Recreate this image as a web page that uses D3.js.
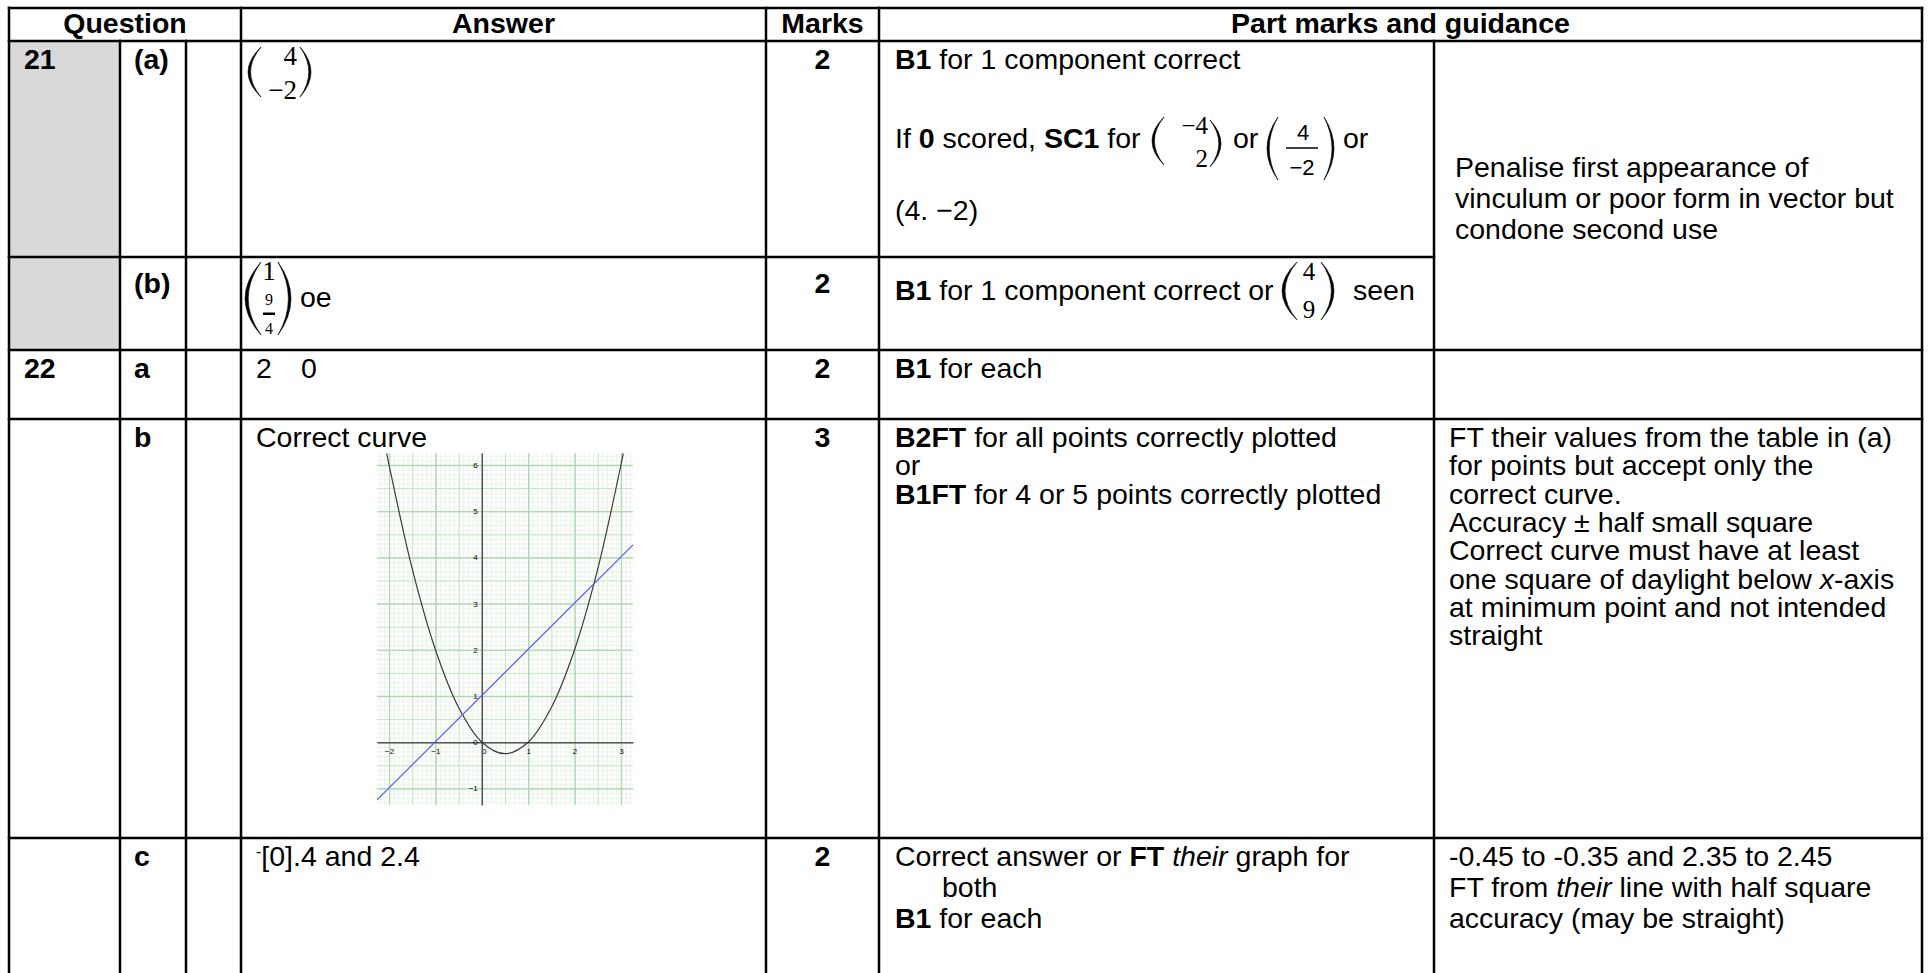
<!DOCTYPE html>
<html>
<head>
<meta charset="utf-8">
<script src="https://cdn.jsdelivr.net/npm/d3@7"></script>
<style>
  body { margin: 0; background: #fff; }
  svg text { font-family: "Liberation Sans", Arial, sans-serif; font-size: 28.5px; fill: #000; white-space: pre; }
</style>
</head>
<body>
<svg id="canvas" width="1929" height="973"></svg>
<script>
// ---- table content ----
let headers = ['Question', 'Answer', 'Marks', 'Part marks and guidance']
let questionNums = ['21', '', '22', '', '']
let partLabels = ['(a)', '(b)', 'a', 'b', 'c']
let marks = ['2', '2', '2', '3', '2']

let answer22a = ['2', '0']
let answer22b = 'Correct curve'
let answer22c = ['-', '[0].4 and 2.4']

// vectors (top, bottom)
let vecAnswerA = ['4', '\u22122']
let vecAnswerB = ['1', '9', '4']       // 1 over 9/4
let vecSC1 = ['\u22124', '2']
let vecSC1Bar = ['4', '\u22122']
let vecSeen = ['4', '9']

// part marks, one array per row, each line a list of [text, style]
let pmRow21a = [
    [['B1', 'b'], [' for 1 component correct']],
    [['If '], ['0', 'b'], [' scored, '], ['SC1', 'b'], [' for']],
    [['(4. \u22122)']]
]
let pmRow21b = [[['B1', 'b'], [' for 1 component correct or']]]
let pmRow22a = [[['B1', 'b'], [' for each']]]
let pmRow22b = [
    [['B2FT', 'b'], [' for all points correctly plotted']],
    [['or']],
    [['B1FT', 'b'], [' for 4 or 5 points correctly plotted']]
]
let pmRow22c = [
    [['Correct answer or '], ['FT', 'b'], [' '], ['their', 'i'], [' graph for']],
    [['both']],
    [['B1', 'b'], [' for each']]
]

let guide21 = ['Penalise first appearance of', 'vinculum or poor form in vector but', 'condone second use']
let guide22b = [
    [['FT their values from the table in (a)']],
    [['for points but accept only the']],
    [['correct curve.']],
    [['Accuracy \u00b1 half small square']],
    [['Correct curve must have at least']],
    [['one square of daylight below '], ['x', 'i'], ['-axis']],
    [['at minimum point and not intended']],
    [['straight']]
]
let guide22c = [
    [['-0.45 to -0.35 and 2.35 to 2.45']],
    [['FT from '], ['their', 'i'], [' line with half square']],
    [['accuracy (may be straight)']]
]

// ---- graph data ----
let curveX = [-2.05, -2, -1.5, -1, -0.5, 0, 0.5, 1, 1.5, 2, 2.5, 3, 3.05]
let curveY = [6.25, 6, 3.75, 2, 0.75, 0, -0.25, 0, 0.75, 2, 3.75, 6, 6.25]
let lineX = [-2.26, 3.26]
let lineY = [-1.25, 4.27]
let xTicks = [-2, -1, 0, 1, 2, 3]
let yTicks = [-1, 0, 1, 2, 3, 4, 5, 6]

// ---- layout ----
let colX = [9, 120, 186, 241, 766, 879, 1434, 1922]
let rowY = [8, 41, 257, 350, 419, 838, 1000]
let gap = 28.3      // tight paragraphs
let gapWide = 31    // looser paragraphs

let canvas = d3.select('#canvas')

// grey cell behind question 21
canvas.append('rect')
    .attr('x', colX[0]).attr('y', rowY[1])
    .attr('width', colX[1] - colX[0]).attr('height', rowY[3] - rowY[1])
    .attr('fill', '#d9d9d9')

let richLine = (x, y, segs) => {
    let t = canvas.append('text').attr('x', x).attr('y', y)
    segs.forEach(s => {
        let sp = t.append('tspan').text(s[0])
        if (s[1] === 'b') sp.attr('font-weight', 'bold')
        if (s[1] === 'i') sp.attr('font-style', 'italic')
    })
    return t
}

let plain = (x, y, txt, opts = {}) => {
    let t = canvas.append('text').attr('x', x).attr('y', y).text(txt)
    if (opts.bold) t.attr('font-weight', 'bold')
    if (opts.anchor) t.attr('text-anchor', opts.anchor)
    if (opts.size) t.style('font-size', opts.size + 'px')
    if (opts.serif) t.style('font-family', '"Liberation Serif", "DejaVu Serif", serif')
    return t
}

// bracket as a thin crescent, tips at x, bulge is signed
let paren = (x, y1, y2, bulge) => {
    let ym = (y1 + y2) / 2
    let inner = bulge * 0.8
    canvas.append('path')
        .attr('d', `M${x},${y1} Q${x + bulge},${ym} ${x},${y2} Q${x + inner},${ym} ${x},${y1} Z`)
        .attr('fill', '#000').attr('stroke', '#000').attr('stroke-width', 0.6)
}

// ---- header ----
let headCenters = [(colX[0] + colX[3]) / 2, (colX[3] + colX[4]) / 2, (colX[4] + colX[5]) / 2, (colX[5] + colX[7]) / 2]
headers.forEach((h, i) => plain(headCenters[i], 33, h, { bold: true, anchor: 'middle' }))

// ---- question / part / marks columns ----
let firstBase = [69, 293, 378, 447, 866]
questionNums.forEach((q, i) => { if (q) plain(24, firstBase[i], q, { bold: true }) })
partLabels.forEach((p, i) => plain(134, firstBase[i], p, { bold: true }))
marks.forEach((m, i) => plain((colX[4] + colX[5]) / 2, firstBase[i], m, { bold: true, anchor: 'middle' }))

// ---- answers ----
let ax = -9
paren(270 + ax, 47, 97, -26)
paren(309 + ax, 47, 97, 22)
plain(306 + ax, 65, vecAnswerA[0], { serif: true, size: 27, anchor: 'end' })
plain(306 + ax, 99, vecAnswerA[1], { serif: true, size: 27, anchor: 'end' })

let bx = -12
paren(273 + bx, 262, 335, -32)
paren(290 + bx, 262, 335, 26)
plain(281 + bx, 280, vecAnswerB[0], { serif: true, size: 27, anchor: 'middle' })
plain(281 + bx, 305, vecAnswerB[1], { serif: true, size: 16, anchor: 'middle' })
canvas.append('rect').attr('x', 275 + bx).attr('y', 312.5).attr('width', 12).attr('height', 2.5).attr('fill', '#000')
plain(281 + bx, 334, vecAnswerB[2], { serif: true, size: 16, anchor: 'middle' })
plain(300, 307, 'oe')

plain(256, 378, answer22a[0])
plain(301, 378, answer22a[1])
plain(256, 447, answer22b)
let ans = canvas.append('text').attr('x', 256).attr('y', 866)
ans.append('tspan').text(answer22c[0]).style('font-size', '16px').attr('dy', -9)
ans.append('tspan').text(answer22c[1]).attr('dy', 9)

// ---- part marks ----
let pmX = colX[5] + 16
richLine(pmX, 69, pmRow21a[0])
richLine(pmX, 148, pmRow21a[1])
richLine(pmX, 220, pmRow21a[2])

paren(1164, 117, 165, -24)
paren(1210, 120, 167, 22)
plain(1208, 134, vecSC1[0], { serif: true, size: 25, anchor: 'end' })
plain(1208, 167, vecSC1[1], { serif: true, size: 25, anchor: 'end' })
plain(1233, 148, 'or')
paren(1278, 117, 180, -22)
paren(1324, 117, 180, 20)
plain(1303, 140, vecSC1Bar[0], { size: 22, anchor: 'middle' })
canvas.append('line').attr('x1', 1286).attr('x2', 1318).attr('y1', 148).attr('y2', 148)
    .attr('stroke', '#000').attr('stroke-width', 1.5)
plain(1302, 175, vecSC1Bar[1], { size: 22, anchor: 'middle' })
plain(1343, 148, 'or')

richLine(pmX, 300, pmRow21b[0])
paren(1297, 262, 320, -30)
paren(1321, 262, 320, 26)
plain(1309, 280, vecSeen[0], { serif: true, size: 25, anchor: 'middle' })
plain(1309, 318, vecSeen[1], { serif: true, size: 25, anchor: 'middle' })
plain(1353, 300, 'seen')

richLine(pmX, 378, pmRow22a[0])
pmRow22b.forEach((l, i) => richLine(pmX, 447 + i * gap, l))
richLine(pmX, 866, pmRow22c[0])
richLine(942, 866 + gapWide, pmRow22c[1])
richLine(pmX, 866 + 2 * gapWide, pmRow22c[2])

// ---- guidance ----
let gX = colX[6] + 15
guide21.forEach((l, i) => plain(gX + 6, 177 + i * gapWide, l))
guide22b.forEach((l, i) => richLine(gX, 447 + i * gap, l))
guide22c.forEach((l, i) => richLine(gX, 866 + i * gapWide, l))

// ---- small graph in 22(b) ----
let x = d3.scaleLinear().domain([-2.26, 3.26]).range([377, 633])
let y = d3.scaleLinear().domain([-1.36, 6.26]).range([805, 453])
let graph = canvas.append('g')
canvas.append('clipPath').attr('id', 'plotClip')
    .append('rect').attr('x', 377).attr('y', 453).attr('width', 256).attr('height', 352)

let gridLayer = (vals, color, width) => {
    let h = y.range()[0] - y.range()[1]
    let w = x.range()[1] - x.range()[0]
    let gx = graph.append('g').attr('transform', `translate(0,${y.range()[0]})`)
        .call(d3.axisBottom(x).tickValues(vals.filter(v => v >= -2.26 && v <= 3.26)).tickSize(-h).tickFormat(''))
    gx.select('.domain').remove()
    gx.selectAll('line').attr('stroke', color).attr('stroke-width', width)
    let yVals = vals.filter(v => v >= -1.36 && v <= 6.26)
    let gy = graph.append('g').attr('transform', `translate(${x.range()[0]},0)`)
        .call(d3.axisLeft(y).tickValues(yVals).tickSize(-w).tickFormat(''))
    gy.select('.domain').remove()
    gy.selectAll('line').attr('stroke', color).attr('stroke-width', width)
}
let tenths = d3.range(-23, 64).map(i => i / 10)
let halves = d3.range(-5, 13).map(i => i / 2)
gridLayer(tenths, '#e9f4e9', 1)
gridLayer(halves, '#c6e4c6', 1)
gridLayer(yTicks.concat([-2, 7]), '#b0d8b0', 1.3)

let xAxis = graph.append('g').attr('transform', `translate(0,${y(0)})`)
    .call(d3.axisBottom(x).tickValues(xTicks).tickSize(0).tickPadding(6).tickFormat(d3.format('d')))
xAxis.select('.domain').attr('stroke', '#555').attr('stroke-width', 1.5)
xAxis.selectAll('text').style('font-size', '8px').attr('fill', '#444')
    .attr('dx', d => d === 0 ? 2 : 0)

let yAxis = graph.append('g').attr('transform', `translate(${x(0)},0)`)
    .call(d3.axisLeft(y).tickValues(yTicks).tickSize(0).tickPadding(4).tickFormat(d3.format('d')))
yAxis.select('.domain').attr('stroke', '#555').attr('stroke-width', 1.5)
yAxis.selectAll('text').style('font-size', '8px').attr('fill', '#444')

let plot = graph.append('g').attr('clip-path', 'url(#plotClip)')
let curvePts = curveX.map((v, i) => [v, curveY[i]])
plot.append('path')
    .attr('d', d3.line().x(d => x(d[0])).y(d => y(d[1])).curve(d3.curveCatmullRom.alpha(0.5))(curvePts))
    .attr('fill', 'none').attr('stroke', '#3a3a3a').attr('stroke-width', 1.2)
let linePts = lineX.map((v, i) => [v, lineY[i]])
plot.append('path')
    .attr('d', d3.line().x(d => x(d[0])).y(d => y(d[1]))(linePts))
    .attr('fill', 'none').attr('stroke', '#5a5aff').attr('stroke-width', 1.2)

// ---- table rules ----
let L = colX[0], R = colX[7]
let hLines = [
    [L, R, rowY[0]], [L, R, rowY[1]], [L, colX[6], rowY[2]],
    [L, R, rowY[3]], [L, R, rowY[4]], [L, R, rowY[5]]
]
let vLines = [
    [colX[0], rowY[0], rowY[6]], [colX[1], rowY[1], rowY[6]], [colX[2], rowY[1], rowY[6]],
    [colX[3], rowY[0], rowY[6]], [colX[4], rowY[0], rowY[6]], [colX[5], rowY[0], rowY[6]],
    [colX[6], rowY[1], rowY[6]], [colX[7], rowY[0], rowY[6]]
]
canvas.selectAll('line.h').data(hLines).enter().append('line').attr('class', 'h')
    .attr('x1', d => d[0] - 1.25).attr('x2', d => d[1] + 1.25).attr('y1', d => d[2]).attr('y2', d => d[2])
    .attr('stroke', '#000').attr('stroke-width', 2.5)
canvas.selectAll('line.v').data(vLines).enter().append('line').attr('class', 'v')
    .attr('x1', d => d[0]).attr('x2', d => d[0]).attr('y1', d => d[1] - 1.25).attr('y2', d => d[2])
    .attr('stroke', '#000').attr('stroke-width', 2.5)
</script>
</body>
</html>
